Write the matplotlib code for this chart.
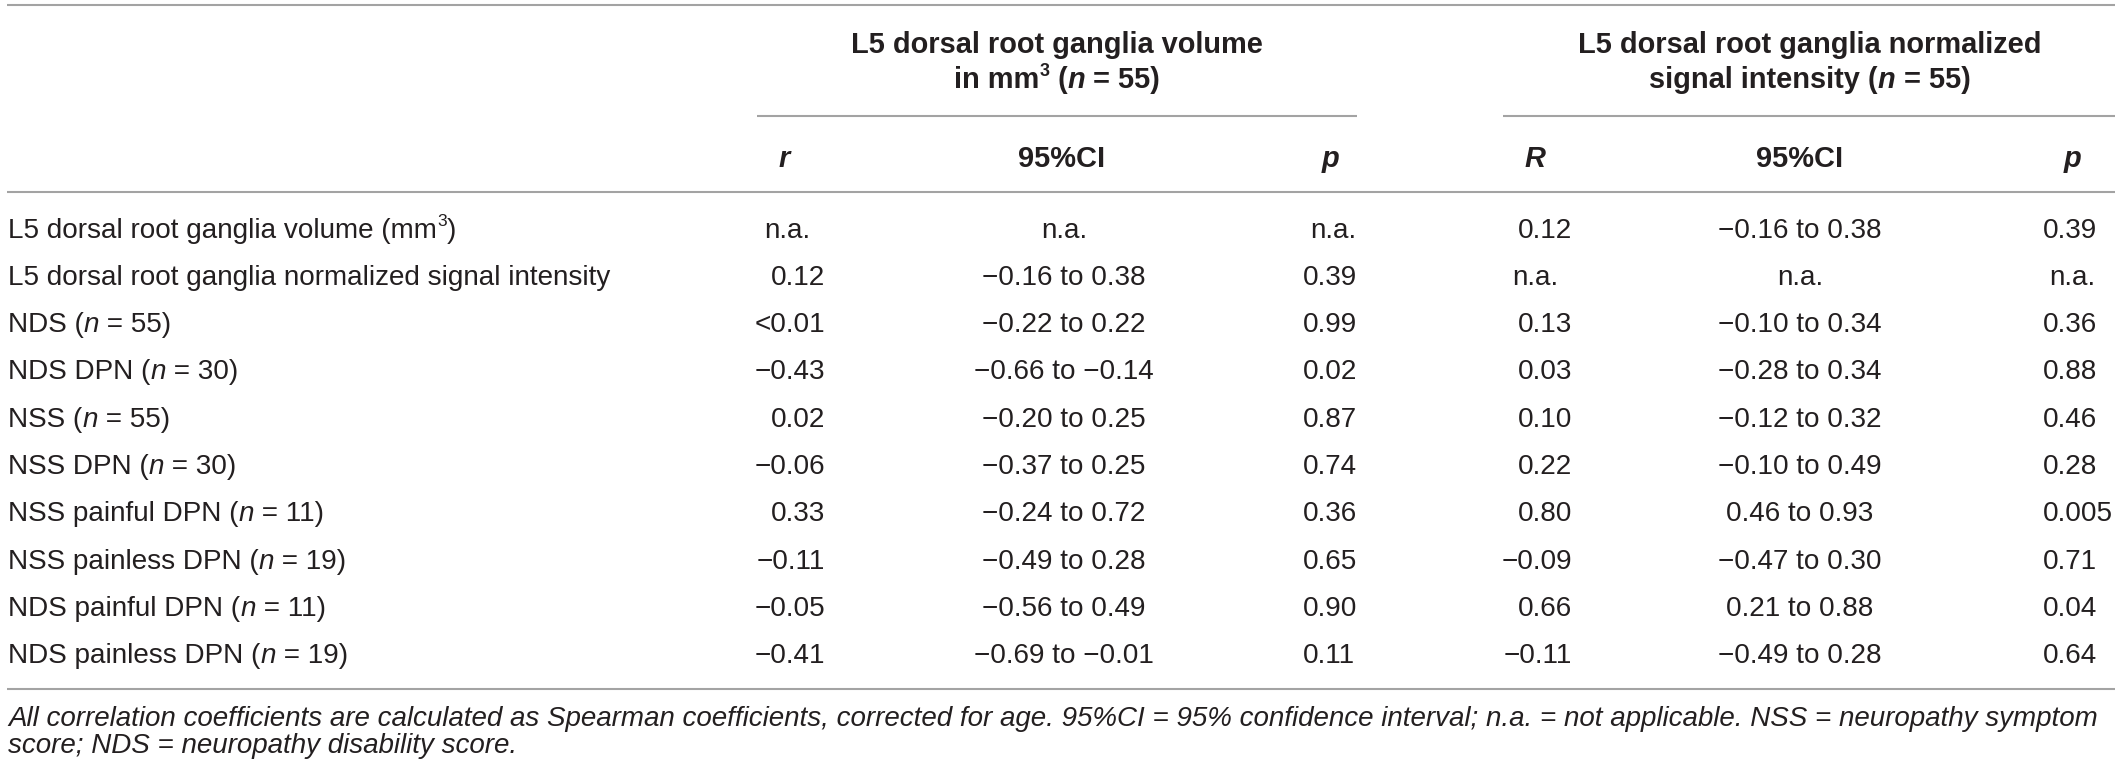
import matplotlib
matplotlib.use('Agg')
import matplotlib.pyplot as plt

plt.rcParams['font.family'] = ['Liberation Sans', 'DejaVu Sans']

# table content
row_names = ['L5 dorsal root ganglia volume', 'L5 dorsal root ganglia normalized signal intensity',
             'NDS', 'NDS DPN', 'NSS', 'NSS DPN', 'NSS painful DPN', 'NSS painless DPN',
             'NDS painful DPN', 'NDS painless DPN']
row_n = [None, None, 55, 30, 55, 30, 11, 19, 11, 19]

vol_r = ['n.a.', '0.12', '<0.01', '−0.43', '0.02', '−0.06', '0.33', '−0.11', '−0.05', '−0.41']
vol_ci = ['n.a.', '−0.16 to 0.38', '−0.22 to 0.22', '−0.66 to −0.14', '−0.20 to 0.25',
          '−0.37 to 0.25', '−0.24 to 0.72', '−0.49 to 0.28', '−0.56 to 0.49', '−0.69 to −0.01']
vol_p = ['n.a.', '0.39', '0.99', '0.02', '0.87', '0.74', '0.36', '0.65', '0.90', '0.11']
sig_r = ['0.12', 'n.a.', '0.13', '0.03', '0.10', '0.22', '0.80', '−0.09', '0.66', '−0.11']
sig_ci = ['−0.16 to 0.38', 'n.a.', '−0.10 to 0.34', '−0.28 to 0.34', '−0.12 to 0.32',
          '−0.10 to 0.49', '0.46 to 0.93', '−0.47 to 0.30', '0.21 to 0.88', '−0.49 to 0.28']
sig_p = ['0.39', 'n.a.', '0.36', '0.88', '0.46', '0.28', '0.005', '0.71', '0.04', '0.64']

group_n = 55
sub_heads = ['r', '95%CI', 'p', 'R', '95%CI', 'p']
foot1 = ('All correlation coefficients are calculated as Spearman coefficients, corrected for age. '
         '95%CI = 95% confidence interval; n.a. = not applicable. NSS = neuropathy symptom')
foot2 = 'score; NDS = neuropathy disability score.'

TXT = '#231f20'
RULE = '#a3a3a3'

W, H = 2122, 775
fig = plt.figure(figsize=(W / 100, H / 100), dpi=100)
ax = fig.add_axes([0, 0, 1, 1])
ax.set_xlim(0, W)
ax.set_ylim(H, 0)
ax.axis('off')
renderer = fig.canvas.get_renderer()


def width_of(s, size, **kw):
    t = ax.text(0, 0, s, fontsize=size, **kw)
    w = t.get_window_extent(renderer).width
    t.remove()
    return w


body_fs = 10 * 607 / width_of(row_names[1], 10)
head_fs = 10 * 464 / width_of('L5 dorsal root ganglia normalized', 10, fontweight='bold')
foot_fs = 10 * 2099 / width_of(foot1, 10, fontstyle='italic')


def draw(x, yc, runs, ha='left', fs=None):
    px = fs * 100 / 72
    base = yc + 0.358 * px
    arts = []
    tot = 0
    for s, st in runs:
        sup = 'sup' in st
        size = fs * 0.62 if sup else fs
        yy = base - 0.42 * px if sup else base
        t = ax.text(0, yy, s, fontsize=size, color=TXT, va='baseline', ha='left',
                    fontweight='bold' if 'b' in st.split('-') else 'normal',
                    fontstyle='italic' if 'i' in st.split('-') else 'normal')
        w = t.get_window_extent(renderer).width
        arts.append((t, w))
        tot += w
    if ha == 'right':
        x0 = x - tot
    elif ha == 'center':
        x0 = x - tot / 2
    else:
        x0 = x
    for t, w in arts:
        t.set_x(x0)
        x0 += w


# rules
ax.plot([7, 2115], [5, 5], color=RULE, lw=1.5, solid_capstyle='butt')
ax.plot([757, 1357], [116, 116], color=RULE, lw=1.5, solid_capstyle='butt')
ax.plot([1503, 2115], [116, 116], color=RULE, lw=1.5, solid_capstyle='butt')
ax.plot([7, 2115], [192, 192], color=RULE, lw=1.5, solid_capstyle='butt')
ax.plot([7, 2115], [689, 689], color=RULE, lw=1.5, solid_capstyle='butt')

# group headers
draw(1057, 43, [('L5 dorsal root ganglia volume', 'b')], 'center', head_fs)
draw(1057, 78, [('in mm', 'b'), ('3', 'b-sup'), (' (', 'b'), ('n', 'b-i'),
                (' = %d)' % group_n, 'b')], 'center', head_fs)
draw(1810, 43, [('L5 dorsal root ganglia normalized', 'b')], 'center', head_fs)
draw(1810, 78, [('signal intensity (', 'b'), ('n', 'b-i'), (' = %d)' % group_n, 'b')],
     'center', head_fs)

sub_x = [784, 1062, 1331, 1535, 1800, 2073]
for s, x in zip(sub_heads, sub_x):
    st = 'b' if 'CI' in s else 'b-i'
    draw(x, 157, [(s, st)], 'center', head_fs)

# columns: values, number anchor x, number align, n.a. centre
columns = [
    (vol_r, 825, 'right', 787),
    (vol_ci, 1064, 'center', 1064),
    (vol_p, 1303, 'left', 1333),
    (sig_r, 1572, 'right', 1535),
    (sig_ci, 1800, 'center', 1800),
    (sig_p, 2043, 'left', 2072),
]

for i, (name, n) in enumerate(zip(row_names, row_n)):
    yc = 227.5 + 47.3 * i
    if i == 0:
        runs = [(name + ' (mm', ''), ('3', 'sup'), (')', '')]
    elif n is None:
        runs = [(name, '')]
    else:
        runs = [(name + ' (', ''), ('n', 'i'), (' = %d)' % n, '')]
    draw(8, yc, runs, 'left', body_fs)
    for vals, x, al, nax in columns:
        v = vals[i]
        if v == 'n.a.':
            draw(nax, yc, [(v, '')], 'center', body_fs)
        else:
            draw(x, yc, [(v, '')], al, body_fs)

# footnote
draw(8, 716, [(foot1, 'i')], 'left', foot_fs)
draw(8, 743, [(foot2, 'i')], 'left', foot_fs)

fig.savefig('out.png', dpi=100)
